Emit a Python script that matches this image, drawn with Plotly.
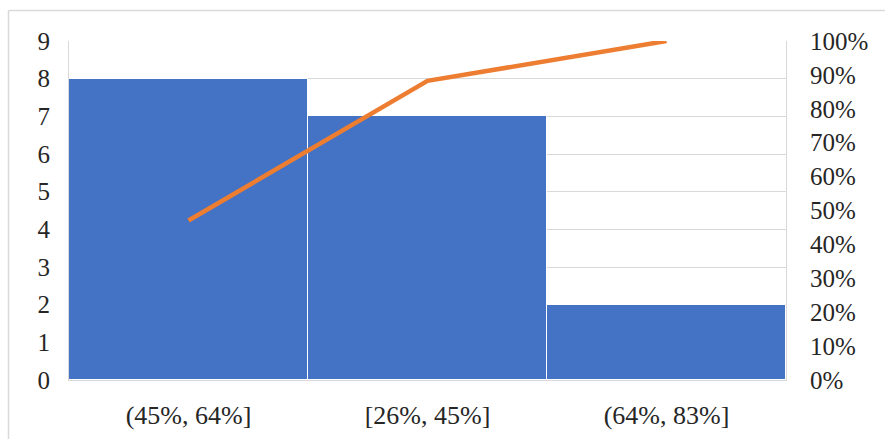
import plotly.graph_objects as go

categories = ["(45%, 64%]", "[26%, 45%]", "(64%, 83%]"]
counts = [8, 7, 2]
cumulative_pct = [47.06, 88.24, 100.0]
left_ticks = list(range(0, 10))
right_ticks = list(range(0, 101, 10))
right_tick_labels = [f"{v}%" for v in right_ticks]

FONT = dict(family="Liberation Serif, Times New Roman, serif", size=25, color="#262626")
XFONT = dict(family="Liberation Serif, Times New Roman, serif", size=26, color="#262626")

fig = go.Figure()
fig.add_trace(go.Bar(
    x=categories, y=counts,
    marker=dict(color="#4472C4", line=dict(color="white", width=1)),
    yaxis="y", showlegend=False,
))
fig.add_trace(go.Scatter(
    x=categories, y=cumulative_pct, mode="lines",
    line=dict(color="#ED7D31", width=4.5),
    yaxis="y2", showlegend=False,
))

fig.update_layout(
    width=885, height=439,
    margin=dict(l=69, r=99, t=41, b=59),
    paper_bgcolor="white", plot_bgcolor="white",
    bargap=0,
    font=FONT,
    xaxis=dict(
        showgrid=False, showline=True, linecolor="#d9d9d9", linewidth=1,
        ticks="outside", ticklen=0, ticklabelstandoff=12,
        tickfont=XFONT, mirror=False, automargin=False,
    ),
    yaxis=dict(
        range=[0, 9], tickvals=left_ticks, showgrid=True, gridcolor="#d9d9d9",
        gridwidth=1, showline=True, linecolor="#d9d9d9", zeroline=False,
        ticks="outside", ticklen=0, ticklabelstandoff=13, tickfont=FONT,
        automargin=False,
    ),
    yaxis2=dict(
        range=[0, 100], tickvals=right_ticks, ticktext=right_tick_labels,
        overlaying="y", side="right", showgrid=False, showline=True,
        linecolor="#d9d9d9", zeroline=False,
        ticks="outside", ticklen=0, ticklabelstandoff=18, tickfont=FONT,
        automargin=False,
    ),
    shapes=[
        dict(type="line", xref="paper", yref="paper",
             x0=(8.5 - 69) / 717, x1=(8.5 - 69) / 717,
             y0=(380 - 10.5) / 339, y1=-0.3,
             line=dict(color="#d9d9d9", width=1.5)),
        dict(type="line", xref="paper", yref="paper",
             x0=(8.5 - 69) / 717, x1=1.2,
             y0=(380 - 10.5) / 339, y1=(380 - 10.5) / 339,
             line=dict(color="#d9d9d9", width=1.5)),
    ],
)

fig.write_html("out.html")
